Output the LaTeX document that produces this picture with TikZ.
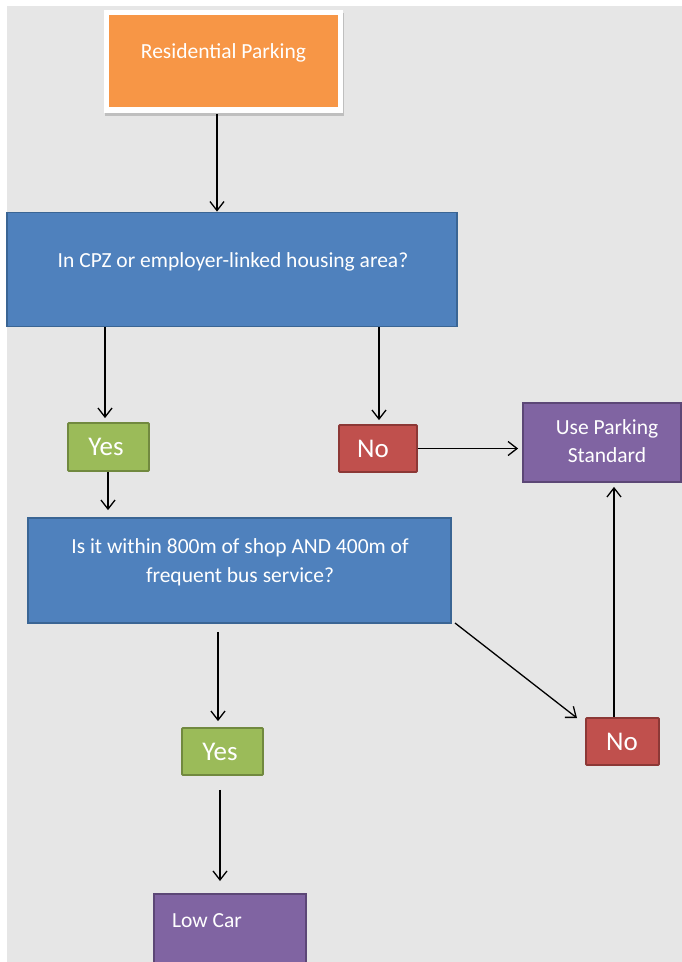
\documentclass[tikz,border=0pt]{standalone}
\usepackage{fontspec}
\setmainfont{Carlito}
\usetikzlibrary{arrows.meta,shadows}
\definecolor{bg}{HTML}{E6E6E6}
\definecolor{orangef}{HTML}{F79646}
\definecolor{bluef}{HTML}{4F81BD}
\definecolor{blued}{HTML}{3A6594}
\definecolor{greenf}{HTML}{9BBB59}
\definecolor{greend}{HTML}{71893F}
\definecolor{redf}{HTML}{C0504D}
\definecolor{redd}{HTML}{8C3836}
\definecolor{purplef}{HTML}{8064A2}
\definecolor{purpled}{HTML}{5C4776}
\tikzset{
  x=1pt, y=-1pt,
  box/.style={rectangle, inner sep=0pt, line width=1.8pt},
  bluebox/.style={box, fill=bluef, draw=blued},
  greenbox/.style={box, fill=greenf, draw=greend, rounded corners=1pt},
  redbox/.style={box, fill=redf, draw=redd, rounded corners=1pt},
  purplebox/.style={box, fill=purplef, draw=purpled},
  txt/.style={text=white, font=\fontsize{21.5}{28.5}\selectfont, align=center, inner sep=0pt},
  bigtxt/.style={text=white, font=\fontsize{27}{30}\selectfont, inner sep=0pt},
  arr/.style={-{Straight Barb[length=9pt,width=14pt]}, line width=1.3pt, black},
}
\begin{document}
\begin{tikzpicture}
\useasboundingbox (0,0) rectangle (682,962);
\fill[white] (0,0) rectangle (682,962);
\fill[bg] (7,6) rectangle (682,962);

% top box
\node[box, fill=white, minimum width=239pt, minimum height=103pt,
  drop shadow={shadow xshift=1pt, shadow yshift=-2.5pt, fill=black!40, opacity=0.5}] (rp) at (223.5,61.5) {};
\node[box, fill=orangef, minimum width=229pt, minimum height=92pt] (rpi) at (223.5,61) {};
\node[txt] (rpt) at (223.5,53) {Residential Parking};

% question 1
\node[bluebox, minimum width=450pt, minimum height=114pt] (q1) at (232,269.5) {};
\node[txt] (q1t) at (233,262) {In CPZ or employer-linked housing area?};

% yes / no 1
\node[greenbox, minimum width=81pt, minimum height=48pt] (y1) at (108.5,447) {};
\node[bigtxt] (y1t) at (106,447) {Yes};
\node[redbox, minimum width=78pt, minimum height=47pt] (n1) at (378,448.5) {};
\node[bigtxt] (n1t) at (373,449) {No};

% use parking standard
\node[purplebox, minimum width=158pt, minimum height=79pt] (ups) at (602,442.5) {};
\node[txt] (upst) at (607,441) {Use Parking\\Standard};

% question 2
\node[bluebox, minimum width=423pt, minimum height=105pt] (q2) at (239.5,570.5) {};
\node[txt] (q2t) at (240,562.5) {Is it within 800m of shop AND 400m of\\frequent bus service?};

% yes / no 2
\node[greenbox, minimum width=81pt, minimum height=47pt] (y2) at (222.5,751.5) {};
\node[bigtxt] (y2t) at (220,752) {Yes};
\node[redbox, minimum width=73pt, minimum height=47pt] (n2) at (622.5,741.5) {};
\node[bigtxt] (n2t) at (622,742) {No};

% low car
\node[purplebox, minimum width=152pt, minimum height=80pt, anchor=north west] (lc) at (153,893) {};
\node[txt, anchor=west] (lct) at (172,921) {Low Car};

% connectors
\draw[arr] (rp.south -| 217,0) -- (q1.north -| 217,0);
\draw[arr] (q1.south -| 105,0) -- ([yshift=4pt]y1.north -| 105,0);
\draw[arr] (q1.south -| 379,0) -- ([yshift=4pt]n1.north -| 379,0);
\draw[arr] (n1.east) -- ([xshift=-4pt]ups.west |- n1.east);
\draw[arr] (y1.south -| 108,0) -- ([yshift=7pt]q2.north -| 108,0);
\draw[arr] ([yshift=-8pt]q2.south -| 218,0) -- ([yshift=6pt]y2.north -| 218,0);
\coordinate (dstart) at (455,623);
\coordinate (dend) at (577,718);
\draw[arr] (dstart) -- (dend);
\draw[arr] (n2.north -| 614,0) -- ([yshift=-4pt]ups.south -| 614,0);
\draw[arr] ([yshift=-14pt]y2.south -| 220,0) -- ([yshift=12pt]lc.north -| 220,0);
\end{tikzpicture}
\end{document}
